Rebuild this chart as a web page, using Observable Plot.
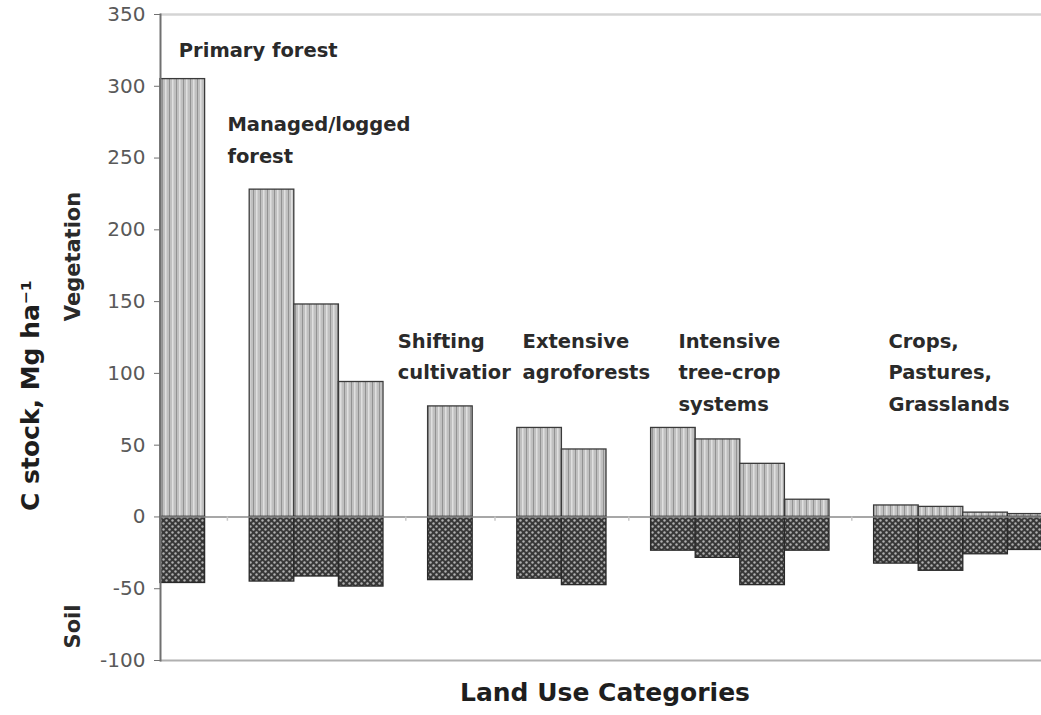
<!DOCTYPE html>
<html><head><meta charset="utf-8">
<script src="https://cdn.jsdelivr.net/npm/d3@7"></script>
<script src="https://cdn.jsdelivr.net/npm/@observablehq/plot@0.6"></script>
<style>body{margin:0;background:#fff;} #chart svg{overflow:hidden;display:block}</style>
</head><body><div id="chart"></div>
<script>
// ---- data ----
const groups = ["Primary forest", "Managed/logged forest", "Shifting cultivation", "Extensive agroforests", "Intensive tree-crop systems", "Crops, Pastures, Grasslands"];
const groupLabels = ["Primary forest", "Managed/logged\nforest", "Shifting\ncultivatior", "Extensive\nagroforests", "Intensive\ntree-crop\nsystems", "Crops,\nPastures,\nGrasslands"];
const barGroup = [0, 1, 1, 1, 2, 3, 3, 4, 4, 4, 4, 5, 5, 5, 5];
const vegetation = [305, 228, 148, 94, 77, 62, 47, 62, 54, 37, 12, 8, 7, 3, 2];
const soil = [-46, -45, -41.5, -48.5, -44, -43, -47.5, -23.5, -28.5, -47.5, -23.5, -32.5, -37.5, -26, -23];
const yTicks = [-100, -50, 0, 50, 100, 150, 200, 250, 300, 350];
// annotation placement (group label top, in data units; horizontal nudge in px)
const labelTop = [336, 284, 133, 133, 133, 133];
const labelNudge = [-4, 0, -8, -17, 5, -8];

// ---- build slots (one empty slot between groups) ----
const slots = [], gaps = [], rows = [];
let counter = {};
barGroup.forEach((g, i) => {
  if (i > 0 && barGroup[i - 1] !== g) { const gname = "gap " + g; slots.push(gname); gaps.push(gname); }
  counter[g] = (counter[g] || 0) + 1;
  const name = groups[g] + " #" + counter[g];
  slots.push(name);
  rows.push({slot: name, group: g, veg: vegetation[i], soil: soil[i]});
});
const labelSlotIndex = [0, 1, 5, 8, 11, 16];
const labels = groupLabels.map((t, g) => ({text: t, slot: slots[labelSlotIndex[g]], y: labelTop[g], dx: labelNudge[g]}));

const slotW = 44.6;
const font = "'DejaVu Sans', sans-serif";

const chart = Plot.plot({
  width: 1041,
  height: 715,
  marginLeft: 160,
  marginRight: 0,
  marginTop: 14,
  marginBottom: 55,
  style: {fontFamily: font, color: "#595959", background: "#fff"},
  x: {type: "band", domain: slots, range: [160, 160 + slotW * slots.length], padding: 0, round: false, axis: null},
  y: {domain: [-100, 350], axis: null},
  marks: [
    Plot.ruleY([350], {stroke: "#d4d4d4", strokeWidth: 2.5}),
    Plot.ruleY([-100], {stroke: "#b0b0b0", strokeWidth: 2}),
    Plot.barY(rows, {x: "slot", y: "veg", fill: "url(#vegPat)", stroke: "#3a3a3a", strokeWidth: 1.3}),
    Plot.barY(rows, {x: "slot", y: "soil", fill: "url(#soilPat)", stroke: "#2a2a2a", strokeWidth: 1.3}),
    Plot.ruleY([0], {stroke: "#8a8a8a", strokeWidth: 1.5}),
    Plot.ruleX(gaps, {x: d => d, y1: 0, y2: -3, stroke: "#c8c8c8", strokeWidth: 1.5}),
    Plot.frame({anchor: "left", stroke: "#707070", strokeWidth: 2}),
    Plot.axisY({ticks: yTicks, tickSize: 6, tickPadding: 9, fontSize: 20, stroke: "#707070", label: null, tickFormat: d => String(d)}),
    ...labels.map(l => Plot.text([l], {x: "slot", y: "y", text: "text", textAnchor: "start", lineAnchor: "top",
      dx: l.dx, fontSize: 19.5, fontWeight: "bold", fill: "#2a2a2a", lineHeight: 1.6})),
    Plot.text(["C stock, Mg ha\u207B\u00B9"], {text: d => d, frameAnchor: "left", textAnchor: "middle", rotate: -90, dx: -130, dy: 58,
      lineAnchor: "middle", fontSize: 25, fontWeight: "bold", fill: "#1e1e1e"}),
    Plot.text(["Vegetation"], {text: d => d, frameAnchor: "left", textAnchor: "middle", rotate: -90, dx: -87, dy: -81,
      lineAnchor: "middle", fontSize: 21, fontWeight: "bold", fill: "#2a2a2a"}),
    Plot.text(["Soil"], {text: d => d, frameAnchor: "left", textAnchor: "middle", rotate: -90, dx: -87, dy: 289,
      lineAnchor: "middle", fontSize: 21, fontWeight: "bold", fill: "#2a2a2a"}),
    Plot.text(["Land Use Categories"], {text: d => d, frameAnchor: "bottom", textAnchor: "middle", dx: 4, dy: 32,
      lineAnchor: "middle", fontSize: 25, fontWeight: "bold", fill: "#1e1e1e"})
  ]
});

// patterns
const svg = d3.select(chart);
const defs = svg.insert("defs", ":first-child");
const vp = defs.append("pattern").attr("id", "vegPat").attr("patternUnits", "userSpaceOnUse")
  .attr("width", 7).attr("height", 10);
vp.append("rect").attr("width", 7).attr("height", 10).attr("fill", "#c0c0c0");
vp.append("rect").attr("x", 1).attr("width", 1).attr("height", 10).attr("fill", "#929292");
vp.append("rect").attr("x", 4).attr("width", 1.5).attr("height", 10).attr("fill", "#e0e0e0");
const sp = defs.append("pattern").attr("id", "soilPat").attr("patternUnits", "userSpaceOnUse")
  .attr("width", 6).attr("height", 6);
sp.append("rect").attr("width", 6).attr("height", 6).attr("fill", "#383838");
sp.append("circle").attr("cx", 1.5).attr("cy", 1.5).attr("r", 1.2).attr("fill", "#b0b0b0");
sp.append("circle").attr("cx", 4.5).attr("cy", 4.5).attr("r", 1.2).attr("fill", "#b0b0b0");

document.getElementById("chart").appendChild(chart);
</script>
</body></html>
